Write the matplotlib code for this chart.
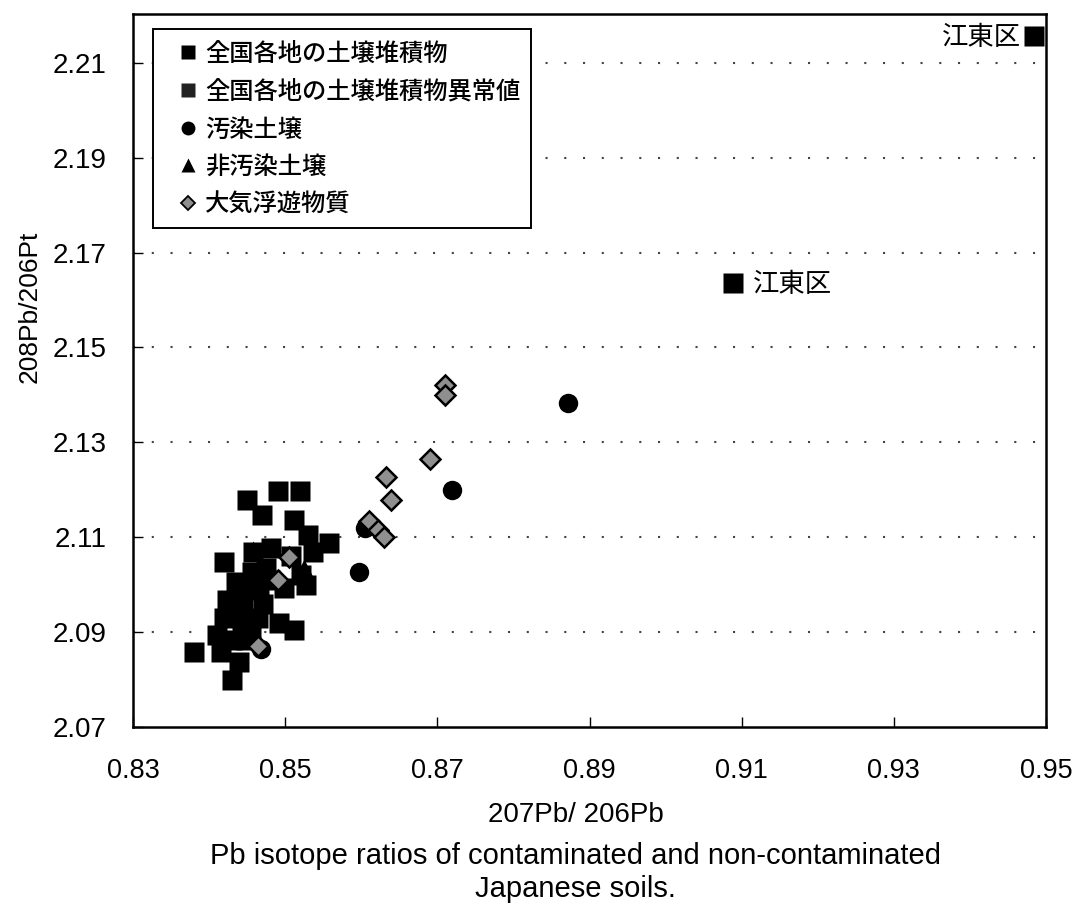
import matplotlib
matplotlib.use("Agg")
import matplotlib.pyplot as plt
from matplotlib.lines import Line2D
from matplotlib.patches import Rectangle

plt.rcParams['font.family'] = ['Liberation Sans', 'Noto Sans CJK JP', 'DejaVu Sans']

# ---- data ----
soil_x = [0.8491, 0.8519, 0.8450, 0.8469, 0.8511, 0.8530, 0.8558, 0.8537, 0.8419,
          0.8458, 0.8482, 0.8508, 0.8456, 0.8475, 0.8521, 0.8443, 0.8466, 0.8498,
          0.8528, 0.8423, 0.8445, 0.8471, 0.8419, 0.8443, 0.8464, 0.8410, 0.8430,
          0.8449, 0.8492, 0.8511, 0.8380, 0.8416, 0.8439, 0.8430, 0.8435, 0.8455,
          0.8480, 0.8427]
soil_y = [2.1197, 2.1197, 2.1178, 2.1146, 2.1136, 2.1104, 2.1087, 2.1068, 2.1047,
          2.1068, 2.1077, 2.1060, 2.1026, 2.1035, 2.1020, 2.0988, 2.0988, 2.0993,
          2.0999, 2.0967, 2.0955, 2.0959, 2.0929, 2.0921, 2.0929, 2.0894, 2.0883,
          2.0883, 2.0919, 2.0904, 2.0858, 2.0858, 2.0837, 2.0799, 2.1005, 2.0905,
          2.1010, 2.0940]

anom_x = [0.9484, 0.9088]
anom_y = [2.2157, 2.1635]
anom_labels = ['江東区', '江東区']

contam_x = [0.8872, 0.8719, 0.8597, 0.8605, 0.8468]
contam_y = [2.1382, 2.1199, 2.1026, 2.1119, 2.0864]

noncontam_x = [0.8458, 0.8525, 0.8437, 0.8456]
noncontam_y = [2.1073, 2.1035, 2.0999, 2.0908]

air_x = [0.8710, 0.8710, 0.8691, 0.8632, 0.8639, 0.8610, 0.8622, 0.8630, 0.8491, 0.8505, 0.8464]
air_y = [2.1420, 2.1399, 2.1264, 2.1226, 2.1178, 2.1134, 2.1115, 2.1100, 2.1009, 2.1058, 2.0871]

series_names = ['全国各地の土壌堆積物', '全国各地の土壌堆積物異常値', '汚染土壌', '非汚染土壌', '大気浮遊物質']

x_ticks = [0.83, 0.85, 0.87, 0.89, 0.91, 0.93, 0.95]
x_ticklabels = ['0.83', '0.85', '0.87', '0.89', '0.91', '0.93', '0.95']
y_ticks = [2.07, 2.09, 2.11, 2.13, 2.15, 2.17, 2.19, 2.21]
y_ticklabels = ['2.07', '2.09', '2.11', '2.13', '2.15', '2.17', '2.19', '2.21']

# ---- figure ----
W, H = 1073, 907
fig = plt.figure(figsize=(W / 100, H / 100), dpi=100)
ax_l, ax_r, ax_t, ax_b = 133, 1046, 14, 727
ax = fig.add_axes([ax_l / W, 1 - ax_b / H, (ax_r - ax_l) / W, (ax_b - ax_t) / H])
aw, ah = ax_r - ax_l, ax_b - ax_t

ax.plot(soil_x, soil_y, 's', color='black', ms=14, mec='none', zorder=3)
ax.plot(anom_x, anom_y, 's', color='black', ms=14, mec='none', zorder=3, clip_on=False)
ax.plot(noncontam_x, noncontam_y, '^', color='black', ms=13, mec='none', zorder=4)
ax.plot(contam_x, contam_y, 'o', color='black', ms=14, mec='none', zorder=4)
ax.plot(air_x, air_y, 'D', mfc='#8f8f8f', mec='black', mew=1.8, ms=10.5, zorder=5)

ax.annotate(anom_labels[0], (anom_x[0], anom_y[0]), xytext=(-9, -1), textcoords='offset points',
            ha='right', va='center', fontsize=19, family=['Noto Sans CJK JP'])
ax.annotate(anom_labels[1], (anom_x[1], anom_y[1]), xytext=(15, -1), textcoords='offset points',
            ha='left', va='center', fontsize=19, family=['Noto Sans CJK JP'])

ax.set_xlim(0.83, 0.95)
ax.set_ylim(2.07, 2.2203)
ax.set_xticks(x_ticks)
ax.set_xticklabels(x_ticklabels, fontsize=19.5)
ax.set_yticks(y_ticks)
ax.set_yticklabels(y_ticklabels, fontsize=20)
ax.tick_params(axis='x', direction='in', length=7, width=1, pad=22)
ax.tick_params(axis='y', direction='in', length=7, width=1, pad=19)

for yv in y_ticks[1:]:
    ax.axhline(yv, color='#444444', lw=1.5, ls=(0, (1, 8)), zorder=1)

for sp in ax.spines.values():
    sp.set_linewidth(1.8)
    sp.set_color('black')

ax.set_xlabel('207Pb/ 206Pb', fontsize=20)
ax.xaxis.set_label_coords(0.485, -0.105)
ax.set_ylabel('208Pb/206Pt', fontsize=19)
ax.yaxis.set_label_coords((42 - ax_l) / aw, 0.59)

fig.text(0.536, 0.038, 'Pb isotope ratios of contaminated and non-contaminated\nJapanese soils.',
         ha='center', va='center', fontsize=21, linespacing=1.2)

# legend frame (pixel box 153..531 x 29..228)
frame = Rectangle(((153 - ax_l) / aw, (ax_b - 228) / ah), (531 - 153) / aw, (228 - 29) / ah,
                  transform=ax.transAxes, facecolor='white', edgecolor='black', lw=1.4, zorder=9)
ax.add_patch(frame)

handles = [
    Line2D([], [], ls='none', marker='s', color='black', ms=9.5, mec='none'),
    Line2D([], [], ls='none', marker='s', color='#222222', ms=9.5, mec='none'),
    Line2D([], [], ls='none', marker='o', color='black', ms=10, mec='none'),
    Line2D([], [], ls='none', marker='^', color='black', ms=10.5, mec='none'),
    Line2D([], [], ls='none', marker='D', mfc='#8f8f8f', mec='black', mew=1.3, ms=7.5),
]
leg = ax.legend(handles, series_names, loc='upper left',
                bbox_to_anchor=((179.5 - ax_l) / aw, (ax_b - 41) / ah),
                prop={'family': ['Noto Sans CJK JP'], 'size': 17.5, 'weight': 'medium'},
                frameon=False, borderpad=0, labelspacing=0.48,
                handlelength=0.7, handletextpad=0.35, borderaxespad=0)
leg.set_zorder(10)

fig.savefig('out.png', dpi=100)
